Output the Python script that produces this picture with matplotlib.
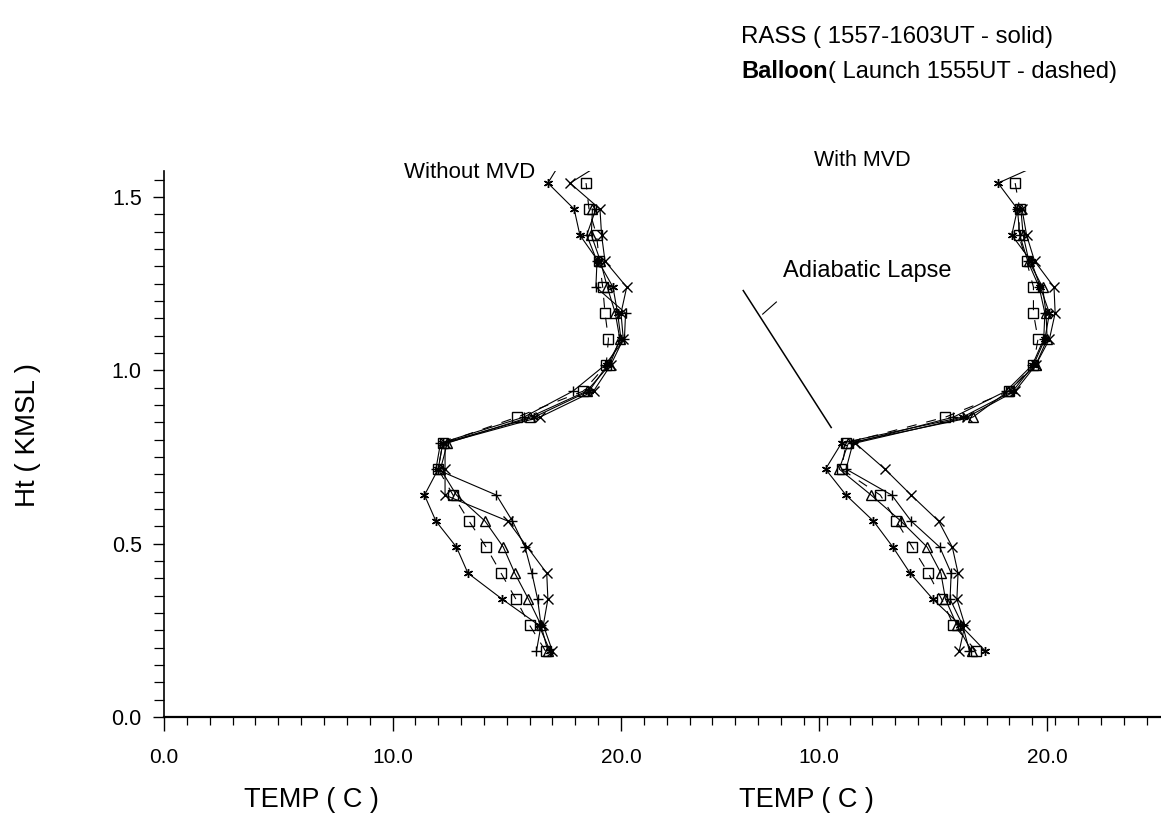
import numpy as np
import matplotlib
matplotlib.use("Agg")
import matplotlib.pyplot as plt
from matplotlib.ticker import MultipleLocator, FixedLocator

plt.rcParams['font.family'] = ['Liberation Sans', 'DejaVu Sans']

nan = np.nan

# RASS / balloon levels (km MSL); the last one lies above the plot top and gets clipped
heights = [0.19, 0.265, 0.34, 0.415, 0.49, 0.565, 0.64, 0.715, 0.79, 0.865,
           0.94, 1.015, 1.09, 1.165, 1.24, 1.315, 1.39, 1.465, 1.54, 1.615]

# Without MVD (temperatures, C)
left_star = [16.9, 16.4, 14.8, 13.3, 12.8, 11.9, 11.4, 12.0, 12.2, 16.2,
             18.6, 19.4, 20.0, 19.85, 19.65, 19.0, 18.2, 17.95, 16.8, 17.5]
left_tri = [16.8, 16.5, 15.95, 15.35, 14.85, 14.05, 12.8, 12.1, 12.4, 16.0,
            18.5, 19.5, 19.95, 19.75, 19.4, 19.1, 18.7, 18.75, nan, nan]
left_plus = [16.3, 16.5, 16.35, 16.1, 15.8, 15.25, 14.55, 11.9, 12.1, 15.75,
             17.9, 19.3, 20.15, 20.2, 18.9, 18.95, 18.5, 18.9, nan, nan]
left_x = [17.0, 16.6, 16.8, 16.75, 15.9, 15.05, 12.3, 12.3, 12.3, 16.45,
          18.8, 19.55, 20.1, 20.0, 20.25, 19.3, 19.15, 19.08, 17.77, 19.6]
left_balloon = [16.7, 16.0, 15.4, 14.75, 14.1, 13.35, 12.65, 12.0, 12.2, 15.45,
                18.35, 19.35, 19.45, 19.3, 19.2, 19.05, 18.93, 18.6, 18.47, nan]

# With MVD
right_star = [17.3, 16.2, 15.0, 14.0, 13.25, 12.4, 11.2, 10.3, 11.0, 16.3,
              18.5, 19.4, 19.9, 20.1, 19.7, 19.3, 18.45, 18.7, 17.85, 20.4]
right_tri = [16.7, 16.05, 15.55, 15.35, 14.75, 13.6, 12.3, 10.9, 11.3, 16.75,
             18.3, 19.5, 20.0, 19.95, 19.8, 19.2, 18.95, 18.85, nan, nan]
right_plus = [16.6, 16.3, 15.75, 15.8, 15.3, 14.05, 13.2, 11.2, 11.5, 15.9,
              18.2, 19.35, 19.85, 19.9, 19.65, 19.15, 18.8, 18.7, nan, nan]
right_x = [16.15, 16.4, 16.05, 16.1, 15.85, 15.25, 14.05, 12.9, 11.6, 16.5,
           18.6, 19.5, 20.1, 20.35, 20.3, 19.45, 19.1, 18.9, nan, nan]
right_balloon = [16.9, 15.9, 15.38, 14.8, 14.1, 13.4, 12.7, 11.0, 11.2, 15.55,
                 18.35, 19.4, 19.6, 19.4, 19.4, 19.1, 18.75, 18.8, 18.6, nan]

# dry adiabatic reference (right-panel temperature scale)
lapse_temp = [6.7, 10.55]
lapse_ht = [1.23, 0.835]
leader_temp = [7.55, 8.15]
leader_ht = [1.162, 1.197]

x_ticks = [0, 10, 20]
x_labels = ['0.0', '10.0', '20.0']
y_ticks = [0.0, 0.5, 1.0, 1.5]
y_labels = ['0.0', '0.5', '1.0', '1.5']

RIGHT_OFFSET = 18.65   # the "With MVD" panel shares the axis, shifted right
W, H = 1161, 822


def draw_profiles(ax, offset, star, tri, plus, xs, balloon):
    h = np.array(heights)
    kw = dict(color='black', lw=0.8, markersize=6.5)
    ax.plot(np.array(star) + offset, h, marker=(6, 2, 0), **kw)
    ax.plot(np.array(tri) + offset, h, marker='^', mfc='none', **kw)
    ax.plot(np.array(plus) + offset, h, marker='+', **kw)
    ax.plot(np.array(xs) + offset, h, marker='x', **kw)
    ax.plot(np.array(balloon) + offset, h, marker='s', mfc='none',
            dashes=(9, 9), **kw)


fig = plt.figure(figsize=(W / 100, H / 100), dpi=100)
ax = fig.add_axes([164 / W, 1 - 717 / H, (W - 164) / W, (717 - 171) / H])

draw_profiles(ax, 0, left_star, left_tri, left_plus, left_x, left_balloon)
draw_profiles(ax, RIGHT_OFFSET, right_star, right_tri, right_plus, right_x, right_balloon)

ax.plot(np.array(lapse_temp) + RIGHT_OFFSET, lapse_ht, color='black', lw=1.1)
ax.plot(np.array(leader_temp) + RIGHT_OFFSET, leader_ht, color='black', lw=0.8)
ax.text(8.45 + RIGHT_OFFSET, 1.285, 'Adiabatic Lapse', fontsize=17, va='center')

ax.set_xlim(0, (W - 164) / 22.85)
ax.set_ylim(0, (717 - 171) / 346.7)

ax.xaxis.set_major_locator(FixedLocator(x_ticks + [t + RIGHT_OFFSET for t in x_ticks[1:]]))
ax.set_xticklabels(x_labels + x_labels[1:])
ax.xaxis.set_minor_locator(MultipleLocator(1))
ax.yaxis.set_major_locator(FixedLocator(y_ticks))
ax.set_yticklabels(y_labels)
ax.yaxis.set_minor_locator(MultipleLocator(0.05))

ax.tick_params(axis='x', which='major', length=10, width=1.0, pad=12, labelsize=15)
ax.tick_params(axis='x', which='minor', length=6, width=0.9)
ax.tick_params(axis='y', which='major', length=8, width=1.0, pad=8, labelsize=15.5)
ax.tick_params(axis='y', which='minor', length=7, width=0.9)

for side in ['top', 'right']:
    ax.spines[side].set_visible(False)
ax.spines['left'].set_linewidth(1.2)
ax.spines['bottom'].set_linewidth(1.6)

# labels and titles
fig.text(28 / W, 1 - 435 / H, 'Ht ( KMSL )', rotation=90, fontsize=20,
         ha='center', va='center')
fig.text(311 / W, 1 - 800 / H, 'TEMP ( C )', fontsize=19.5, ha='center', va='center')
fig.text(806 / W, 1 - 800 / H, 'TEMP ( C )', fontsize=19.5, ha='center', va='center')
fig.text(470 / W, 1 - 172 / H, 'Without MVD', fontsize=16, ha='center', va='center')
fig.text(862 / W, 1 - 160 / H, 'With MVD', fontsize=15.5, ha='center', va='center')
fig.text(741 / W, 1 - 37 / H, 'RASS ( 1557-1603UT - solid)', fontsize=17.3, va='center')

bold = fig.text(741 / W, 1 - 72 / H, 'Balloon', fontsize=17, va='center',
                fontweight='bold')
fig.canvas.draw()
bb = bold.get_window_extent()
fig.text(bb.x1 / W, 1 - 72 / H, '( Launch 1555UT - dashed)', fontsize=17, va='center')

fig.savefig('out.png', dpi=100)
